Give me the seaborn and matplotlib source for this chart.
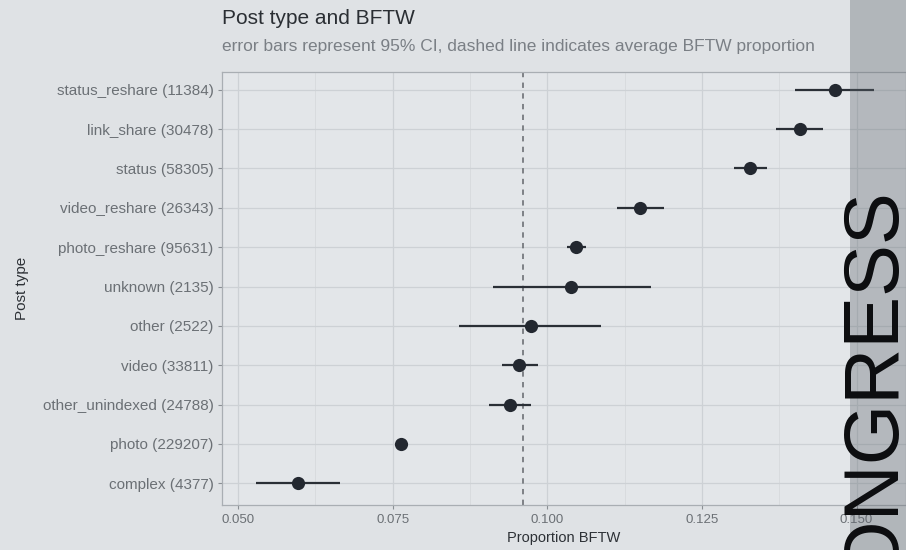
import matplotlib
matplotlib.use("Agg")
import matplotlib.pyplot as plt
import seaborn as sns
import pandas as pd
import numpy as np
from matplotlib.ticker import FixedLocator, FormatStrFormatter
from matplotlib.patches import Rectangle

categories = ["status_reshare (11384)", "link_share (30478)", "status (58305)",
              "video_reshare (26343)", "photo_reshare (95631)", "unknown (2135)",
              "other (2522)", "video (33811)", "other_unindexed (24788)",
              "photo (229207)", "complex (4377)"]
proportion = [0.1465, 0.1408, 0.1327, 0.1150, 0.1047, 0.1039, 0.0973, 0.0955, 0.0940, 0.0763, 0.0597]
ci_low = [0.1400, 0.1369, 0.1302, 0.1113, 0.1032, 0.0913, 0.0858, 0.0926, 0.0906, 0.0757, 0.0529]
ci_high = [0.1529, 0.1445, 0.1355, 0.1189, 0.1063, 0.1168, 0.1087, 0.0985, 0.0974, 0.0769, 0.0665]
average = 0.0961
x_ticks = [0.050, 0.075, 0.100, 0.125, 0.150]

df = pd.DataFrame({"post_type": categories, "prop": proportion,
                   "lo": ci_low, "hi": ci_high})

fam = ["Liberation Sans", "DejaVu Sans"]
bg = "#dfe2e5"
fig = plt.figure(figsize=(9.06, 5.5), dpi=100, facecolor=bg)
ax = fig.add_axes([0.245, 0.082, 0.755, 0.787])
ax.set_facecolor("#e3e6e9")

ax.axvline(average, color="#62666b", linestyle=(0, (3.5, 3.5)), linewidth=1.1, zorder=1)
ax.hlines(np.arange(len(df)), df["lo"], df["hi"], color="#2a2f36", linewidth=1.6, zorder=2)
sns.stripplot(data=df, x="prop", y="post_type", order=categories, jitter=False,
              color="#232830", size=9.5, linewidth=0, ax=ax, zorder=3)

ax.set_xlim(0.0474, 0.158)
ax.set_ylim(len(df) - 0.45, -0.45)
ax.xaxis.set_major_locator(FixedLocator(x_ticks))
ax.xaxis.set_minor_locator(FixedLocator([0.0625, 0.0875, 0.1125, 0.1375]))
ax.xaxis.set_major_formatter(FormatStrFormatter("%.3f"))
ax.grid(True, which="major", color="#cdd1d5", linewidth=0.9, zorder=0)
ax.grid(True, which="minor", axis="x", color="#d6d9dc", linewidth=0.6, zorder=0)
ax.set_axisbelow(True)
for s in ax.spines.values():
    s.set_color("#a9aeb3")
    s.set_linewidth(0.9)
ax.tick_params(axis="both", colors="#8a8f94", length=3, width=0.8,
               labelcolor="#6b7075")
ax.tick_params(axis="x", labelsize=9.5)
ax.tick_params(axis="y", labelsize=11, pad=3)
ax.tick_params(axis="x", which="minor", length=0)
for lab in ax.get_xticklabels() + ax.get_yticklabels():
    lab.set_family(fam)

ax.set_xlabel("Proportion BFTW", fontsize=10.5, color="#2d3136", family=fam, labelpad=4)
ax.set_ylabel("Post type", fontsize=11, color="#2d3136", family=fam, labelpad=10)

fig.text(222 / 906, 1 - 19 / 550, "Post type and BFTW", fontsize=15, color="#2a2e33",
         ha="left", va="center", family=fam)
fig.text(222 / 906, 1 - 46 / 550,
         "error bars represent 95% CI, dashed line indicates average BFTW proportion",
         fontsize=12.5, color="#7a7f85", ha="left", va="center", family=fam)

# dark band and overlay lettering from the photo
fig.patches.append(Rectangle((850 / 906, 0), 56 / 906, 1, transform=fig.transFigure,
                             facecolor="#5d646c", alpha=0.35, zorder=5))
fig.text(1.005, 1 - 188 / 550, "CONGRESS", rotation=90, fontsize=56, color="#0c0d0f",
         ha="right", va="top", family=fam, zorder=6)

fig.savefig("out.png", dpi=100, facecolor=bg)
